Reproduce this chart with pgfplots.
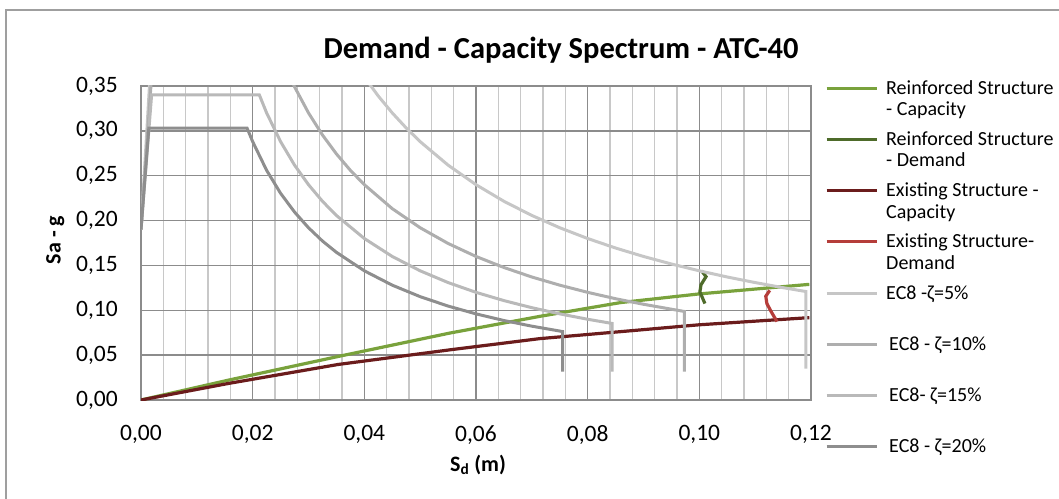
\documentclass[border=0pt]{standalone}
\usepackage{fontspec}
\setmainfont{Carlito}
\usepackage{pgfplots}
\pgfplotsset{compat=1.18}
\definecolor{rcap}{HTML}{79A23C}
\definecolor{rdem}{HTML}{4E6B2A}
\definecolor{ecap}{HTML}{6B1C1C}
\definecolor{edem}{HTML}{B53D3A}
\definecolor{gfive}{HTML}{C6C6C6}
\definecolor{gten}{HTML}{AEAEAE}
\definecolor{gfifteen}{HTML}{B9B9B9}
\definecolor{gtwenty}{HTML}{8E8E8E}
\definecolor{gridmaj}{HTML}{8C8C8C}
\definecolor{gridmin}{HTML}{C8C8C8}
\newcommand{\legtext}[1]{\parbox[t][51.3pt][t]{170pt}{#1}}
\begin{document}
\begin{tikzpicture}
\useasboundingbox (0,0) rectangle (1059pt,498pt);
\draw[color=gray!75, line width=1.6pt] (6pt,-5pt) -- (6pt,488pt) -- (1065pt,488pt);
\begin{axis}[
  at={(141pt,98pt)}, anchor=south west,
  scale only axis, width=670pt, height=314pt,
  xmin=0, xmax=0.12, ymin=0, ymax=0.35,
  xtick={0,0.02,0.04,0.06,0.08,0.1,0.12},
  ytick={0,0.05,0.1,0.15,0.2,0.25,0.3,0.35},
  minor x tick num=4,
  grid=both,
  major grid style={draw=gridmaj, line width=1.4pt},
  minor grid style={draw=gridmin, line width=1.4pt},
  axis line style={draw=gridmaj, line width=1.4pt},
  major tick length=0pt, minor tick length=0pt,
  scaled ticks=false,
  /pgf/number format/.cd, fixed, fixed zerofill, precision=2, use comma, assume math mode=true,
  /pgfplots/.cd,
  tick label style={font=\fontsize{23.5}{27}\selectfont, inner sep=0pt},
  xticklabel style={yshift=-25pt},
  yticklabel style={xshift=-23pt},
  title={Demand - Capacity Spectrum - ATC-40},
  title style={font=\bfseries\fontsize{30.5}{35}\selectfont, at={(axis description cs:0.627,1)}, anchor=center, yshift=30pt},
  xlabel={S\textsubscript{d} (m)},
  ylabel={Sa - g},
  xlabel style={font=\bfseries\fontsize{22}{26}\selectfont, at={(axis description cs:0.503,0)}, anchor=center, yshift=-65pt},
  ylabel style={font=\bfseries\fontsize{22}{26}\selectfont, at={(axis description cs:-0.128,0.51)}, anchor=center},
  legend style={at={(axis description cs:1,1)}, anchor=north west, xshift=14pt, yshift=6pt, draw=none, fill=none,
    row sep=0pt, column sep=8pt, inner sep=0pt, font=\fontsize{20}{21.5}\selectfont,
    cells={anchor=base west}, nodes={inner sep=0pt, text depth=, text height=}},
  legend image code/.code={\draw[#1, line width=3pt] (0pt,6pt) -- (50pt,6pt);},
]
\addplot[rcap, line width=3.2pt] coordinates {(0,0) (0.0157,0.0222) (0.0353,0.0485) (0.0553,0.0746) (0.0714,0.0932) (0.0859,0.1086) (0.0999,0.1182) (0.1197,0.1289)};
\addlegendentry{\legtext{Reinforced Structure\\- Capacity}}
\addplot[rdem, line width=3.2pt] coordinates {(0.1004,0.1440) (0.1012,0.1375) (0.1003,0.1285) (0.1001,0.1205) (0.1010,0.1075)};
\addlegendentry{\legtext{Reinforced Structure\\- Demand}}
\addplot[ecap, line width=3.2pt] coordinates {(0,0) (0.0157,0.0185) (0.0353,0.0396) (0.0553,0.0559) (0.0714,0.0684) (0.0859,0.0762) (0.0999,0.0838) (0.1197,0.0918)};
\addlegendentry{\legtext{Existing Structure -\\Capacity}}
\addplot[edem, line width=3.2pt] coordinates {(0.1126,0.1222) (0.1119,0.1156) (0.1121,0.1074) (0.1129,0.0981) (0.1139,0.0875)};
\addlegendentry{\legtext{Existing Structure-\\Demand}}
\addplot[gfive, line width=3pt] coordinates {(0,0.19) (0.0027,0.475) (0.0303,0.475) (0.0350,0.4114) (0.0400,0.3600) (0.0425,0.3388) (0.0450,0.3200) (0.0475,0.3032) (0.0500,0.2880) (0.0550,0.2618) (0.0600,0.2400) (0.0650,0.2215) (0.0700,0.2057) (0.0750,0.1920) (0.0800,0.1800) (0.0850,0.1694) (0.0900,0.1600) (0.0950,0.1516) (0.1000,0.1440) (0.1050,0.1371) (0.1100,0.1309) (0.1150,0.1252) (0.1191,0.1209) (0.1191,0.0350)};
\addlegendentry{\legtext{EC8 -ζ=5\%}}
\addplot[gten, line width=3pt] coordinates {(0,0.19) (0.0022,0.388) (0.0247,0.388) (0.0275,0.3491) (0.0300,0.3200) (0.0325,0.2954) (0.0350,0.2743) (0.0375,0.2560) (0.0400,0.2400) (0.0450,0.2133) (0.0500,0.1920) (0.0550,0.1745) (0.0600,0.1600) (0.0650,0.1477) (0.0700,0.1371) (0.0750,0.1280) (0.0800,0.1200) (0.0850,0.1129) (0.0900,0.1067) (0.0973,0.0987) (0.0973,0.0315)};
\addlegendentry{\legtext{\hspace{3pt}EC8 - ζ=10\%}}
\addplot[gfifteen, line width=3pt] coordinates {(0,0.19) (0.0019,0.340) (0.0212,0.340) (0.0225,0.3200) (0.0250,0.2880) (0.0275,0.2618) (0.0300,0.2400) (0.0325,0.2215) (0.0350,0.2057) (0.0400,0.1800) (0.0450,0.1600) (0.0500,0.1440) (0.0550,0.1309) (0.0600,0.1200) (0.0650,0.1108) (0.0700,0.1029) (0.0750,0.0960) (0.0800,0.0900) (0.0844,0.0853) (0.0844,0.0315)};
\addlegendentry{\legtext{\hspace{3pt}EC8- ζ=15\%}}
\addplot[gtwenty, line width=3pt] coordinates {(0,0.19) (0.0014,0.303) (0.0190,0.303) (0.0200,0.2880) (0.0225,0.2560) (0.0250,0.2304) (0.0275,0.2095) (0.0300,0.1920) (0.0325,0.1772) (0.0350,0.1646) (0.0400,0.1440) (0.0450,0.1280) (0.0500,0.1152) (0.0550,0.1047) (0.0600,0.0960) (0.0650,0.0886) (0.0700,0.0823) (0.0755,0.0763) (0.0755,0.0315)};
\addlegendentry{\legtext{\hspace{3pt}EC8 - ζ=20\%}}
\end{axis}
\end{tikzpicture}
\end{document}
